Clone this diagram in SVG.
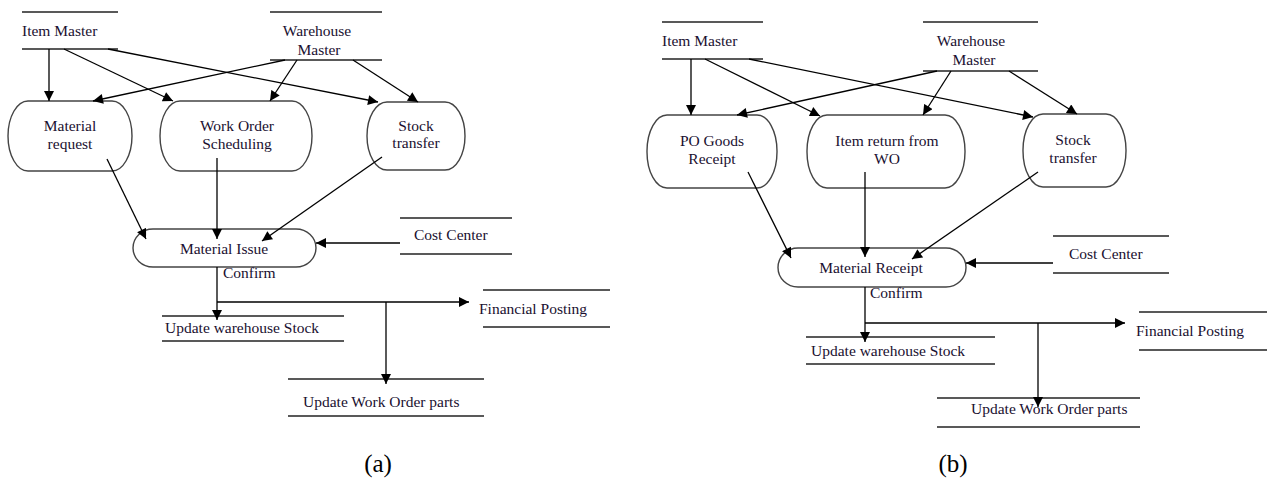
<svg xmlns="http://www.w3.org/2000/svg" width="1267" height="481" viewBox="0 0 1267 481">
<style>
text{font-family:"Liberation Serif","Times New Roman",serif;font-size:15.5px;fill:#1a1030}
.m{text-anchor:middle}
.store line{stroke:#222;stroke-width:1.4}
.proc{fill:#fff;stroke:#444;stroke-width:1.4}
.conn line{stroke:#000;stroke-width:1.3;fill:none}
.arr{marker-end:url(#ah)}
.cap{font-size:25px;fill:#000}
</style>
<defs>
<marker id="ah" viewBox="0 0 10 10" refX="10" refY="5" markerWidth="11" markerHeight="10" markerUnits="userSpaceOnUse" orient="auto"><path d="M0,0 L10,5 L0,10 z" fill="#000"/></marker>
</defs>
<rect width="1267" height="481" fill="#fff"/>

<!-- Panel (a) nodes -->
<g id="a-item-master" class="store"><line x1="22" y1="12" x2="118" y2="12"/><text x="22" y="36">Item Master</text><line x1="22" y1="49" x2="118" y2="49"/></g>
<g id="a-warehouse-master" class="store"><line x1="270" y1="12" x2="382" y2="12"/><text class="m" x="317" y="36">Warehouse</text><text class="m" x="319" y="55">Master</text><line x1="270" y1="60" x2="382" y2="60"/></g>
<g id="a-material-request"><rect class="proc" x="8" y="101" width="124" height="70" rx="20" ry="35"/><text class="m" x="70" y="131">Material</text><text class="m" x="70" y="149">request</text></g>
<g id="a-work-order"><rect class="proc" x="160" y="101" width="152" height="70" rx="20" ry="35"/><text class="m" x="237" y="131">Work Order</text><text class="m" x="237" y="149">Scheduling</text></g>
<g id="a-stock-transfer"><rect class="proc" x="367" y="102" width="98" height="68" rx="20" ry="34"/><text class="m" x="416" y="131">Stock</text><text class="m" x="416" y="148">transfer</text></g>
<g id="a-material-issue"><rect class="proc" x="133" y="229" width="183" height="38" rx="20" ry="19"/><text class="m" x="224" y="254">Material Issue</text></g>
<g id="a-cost-center" class="store"><line x1="400" y1="218" x2="512" y2="218"/><text x="414" y="240">Cost Center</text><line x1="400" y1="254" x2="512" y2="254"/></g>
<g id="a-update-stock" class="store"><line x1="162" y1="316" x2="344" y2="316"/><text x="165" y="333">Update warehouse Stock</text><line x1="162" y1="341" x2="344" y2="341"/></g>
<g id="a-financial" class="store"><line x1="483" y1="290" x2="610" y2="290"/><text x="479" y="314">Financial Posting</text><line x1="483" y1="327" x2="610" y2="327"/></g>
<g id="a-update-wo" class="store"><line x1="288" y1="379" x2="484" y2="379"/><text x="303" y="407">Update Work Order parts</text><line x1="288" y1="416" x2="484" y2="416"/></g>
<text id="a-confirm" x="223" y="278">Confirm</text>

<!-- Panel (b) nodes -->
<g id="b-item-master" class="store"><line x1="662" y1="22" x2="763" y2="22"/><text x="662" y="46">Item Master</text><line x1="662" y1="59" x2="763" y2="59"/></g>
<g id="b-warehouse-master" class="store"><line x1="923" y1="22" x2="1038" y2="22"/><text class="m" x="971" y="46">Warehouse</text><text class="m" x="974" y="65">Master</text><line x1="923" y1="71" x2="1038" y2="71"/></g>
<g id="b-po-goods"><rect class="proc" x="647" y="115" width="130" height="73" rx="20" ry="36"/><text class="m" x="712" y="146">PO Goods</text><text class="m" x="712" y="164">Receipt</text></g>
<g id="b-item-return"><rect class="proc" x="807" y="115" width="158" height="73" rx="20" ry="36"/><text class="m" x="887" y="146">Item return from</text><text class="m" x="887" y="164">WO</text></g>
<g id="b-stock-transfer"><rect class="proc" x="1023" y="114" width="103" height="73" rx="20" ry="36"/><text class="m" x="1073" y="145">Stock</text><text class="m" x="1073" y="163">transfer</text></g>
<g id="b-material-receipt"><rect class="proc" x="778" y="248" width="188" height="39" rx="20" ry="19.5"/><text class="m" x="871" y="273">Material Receipt</text></g>
<g id="b-cost-center" class="store"><line x1="1053" y1="236" x2="1169" y2="236"/><text x="1069" y="259">Cost Center</text><line x1="1053" y1="273" x2="1169" y2="273"/></g>
<g id="b-update-stock" class="store"><line x1="806" y1="337" x2="995" y2="337"/><text x="811" y="356">Update warehouse Stock</text><line x1="806" y1="364" x2="995" y2="364"/></g>
<g id="b-financial" class="store"><line x1="1139" y1="312" x2="1267" y2="312"/><text x="1136" y="336">Financial Posting</text><line x1="1139" y1="350" x2="1267" y2="350"/></g>
<g id="b-update-wo" class="store"><line x1="937" y1="398" x2="1140" y2="398"/><text x="971" y="414">Update Work Order parts</text><line x1="937" y1="427" x2="1140" y2="427"/></g>
<text id="b-confirm" x="870" y="298">Confirm</text>

<!-- Connectors -->
<g id="connectors" class="conn">
<!-- (a) -->
<line class="arr" x1="49" y1="49" x2="49" y2="101"/>
<line class="arr" x1="64" y1="49" x2="173" y2="101"/>
<line class="arr" x1="108" y1="49" x2="378" y2="102"/>
<line class="arr" x1="285" y1="60" x2="93" y2="101"/>
<line class="arr" x1="297" y1="60" x2="270" y2="101"/>
<line class="arr" x1="353" y1="60" x2="418" y2="102"/>
<line class="arr" x1="107" y1="159" x2="146" y2="239"/>
<line class="arr" x1="217" y1="158" x2="217" y2="239"/>
<line class="arr" x1="382" y1="157" x2="262" y2="241"/>
<line class="arr" x1="400" y1="243" x2="316" y2="243"/>
<line class="arr" x1="217" y1="267" x2="217" y2="320"/>
<line class="arr" x1="217" y1="302" x2="469" y2="302"/>
<line class="arr" x1="386" y1="302" x2="386" y2="384"/>
<!-- (b) -->
<line class="arr" x1="691" y1="59" x2="691" y2="115"/>
<line class="arr" x1="705" y1="59" x2="820" y2="116"/>
<line class="arr" x1="749" y1="59" x2="1033" y2="117"/>
<line class="arr" x1="937" y1="71" x2="737" y2="115"/>
<line class="arr" x1="951" y1="71" x2="923" y2="115"/>
<line class="arr" x1="1009" y1="71" x2="1077" y2="114"/>
<line class="arr" x1="748" y1="172" x2="791" y2="258"/>
<line class="arr" x1="865" y1="172" x2="865" y2="257"/>
<line class="arr" x1="1038" y1="172" x2="912" y2="259"/>
<line class="arr" x1="1053" y1="263" x2="966" y2="263"/>
<line class="arr" x1="865" y1="287" x2="865" y2="342"/>
<line class="arr" x1="865" y1="323" x2="1125" y2="323"/>
<line class="arr" x1="1038" y1="323" x2="1038" y2="407"/>
</g>

<text class="cap m" x="378" y="472">(a)</text>
<text class="cap m" x="953" y="472">(b)</text>
</svg>
